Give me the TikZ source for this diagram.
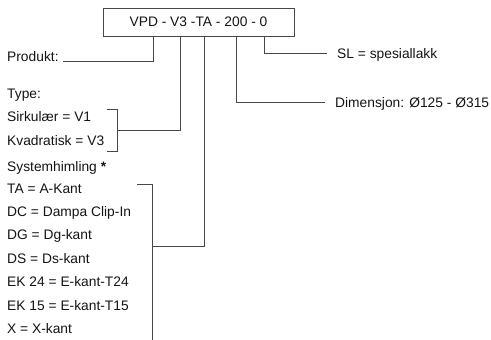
\documentclass[tikz,border=0pt]{standalone}
\usepackage{fontspec}
\setmainfont{Liberation Sans}
\begin{document}
\begin{tikzpicture}[x=1pt,y=-1pt,
  lbl/.style={anchor=base west,inner sep=0pt,font=\fontsize{13.8}{16}\selectfont,text=black!92},
  ln/.style={draw=black!72,line width=0.9pt},
  code/.style={draw=black!72,line width=0.9pt,minimum width=191pt,minimum height=28pt,inner sep=0pt,font=\fontsize{13.8}{16}\selectfont,text=black!92}]
\useasboundingbox (0,0) rectangle (491,340);
\node[code] (box) at (198.5,22) {VPD - V3 -TA - 200 - 0};
% labels
\node[lbl] (produkt) at (7,61.5) {Produkt:};
\node[lbl] (type) at (7,98) {Type:};
\node[lbl] (sirk) at (7,121.5) {Sirkulær = V1};
\node[lbl] (kvad) at (7,145.5) {Kvadratisk = V3};
\node[lbl] (sys) at (7,171.5) {Systemhimling \textbf{*}};
\node[lbl] (ta) at (7,193) {TA = A-Kant};
\node[lbl] (dc) at (7,216.4) {DC = Dampa Clip-In};
\node[lbl] (dg) at (7,239.8) {DG = Dg-kant};
\node[lbl] (ds) at (7,263.2) {DS = Ds-kant};
\node[lbl] (ek24) at (7,286.6) {EK 24 = E-kant-T24};
\node[lbl] (ek15) at (7,310) {EK 15 = E-kant-T15};
\node[lbl] (x) at (7,333.4) {X = X-kant};
\node[lbl] (sl) at (337,58) {SL = spesiallakk};
\node[lbl] (dim) at (335,107) {Dimensjon: Ø125 - Ø315};
% coordinates
\coordinate (p1) at (153,61);
\coordinate (p2) at (63,61);
\coordinate (t1) at (180,130);
\coordinate (t2) at (117,130);
\coordinate (tb1) at (107,109);
\coordinate (tb2) at (117,109);
\coordinate (tb3) at (117,151);
\coordinate (tb4) at (107,151);
\coordinate (s1) at (204,246);
\coordinate (s2) at (152,246);
\coordinate (sb1) at (137,184);
\coordinate (sb2) at (152,184);
\coordinate (sb3) at (152,340);
\coordinate (d1) at (236,102);
\coordinate (d2) at (325,102);
\coordinate (l1) at (264,53);
\coordinate (l2) at (327,53);
% connectors
\draw[ln] (box.south -| p1) -- (p1) -- (p2);
\draw[ln] (box.south -| t1) -- (t1) -- (t2);
\draw[ln] (tb1) -- (tb2) -- (tb3) -- (tb4);
\draw[ln] (box.south -| s1) -- (s1) -- (s2);
\draw[ln] (sb1) -- (sb2) -- (sb3);
\draw[ln] (box.south -| d1) -- (d1) -- (d2);
\draw[ln] (box.south -| l1) -- (l1) -- (l2);
\end{tikzpicture}
\end{document}
